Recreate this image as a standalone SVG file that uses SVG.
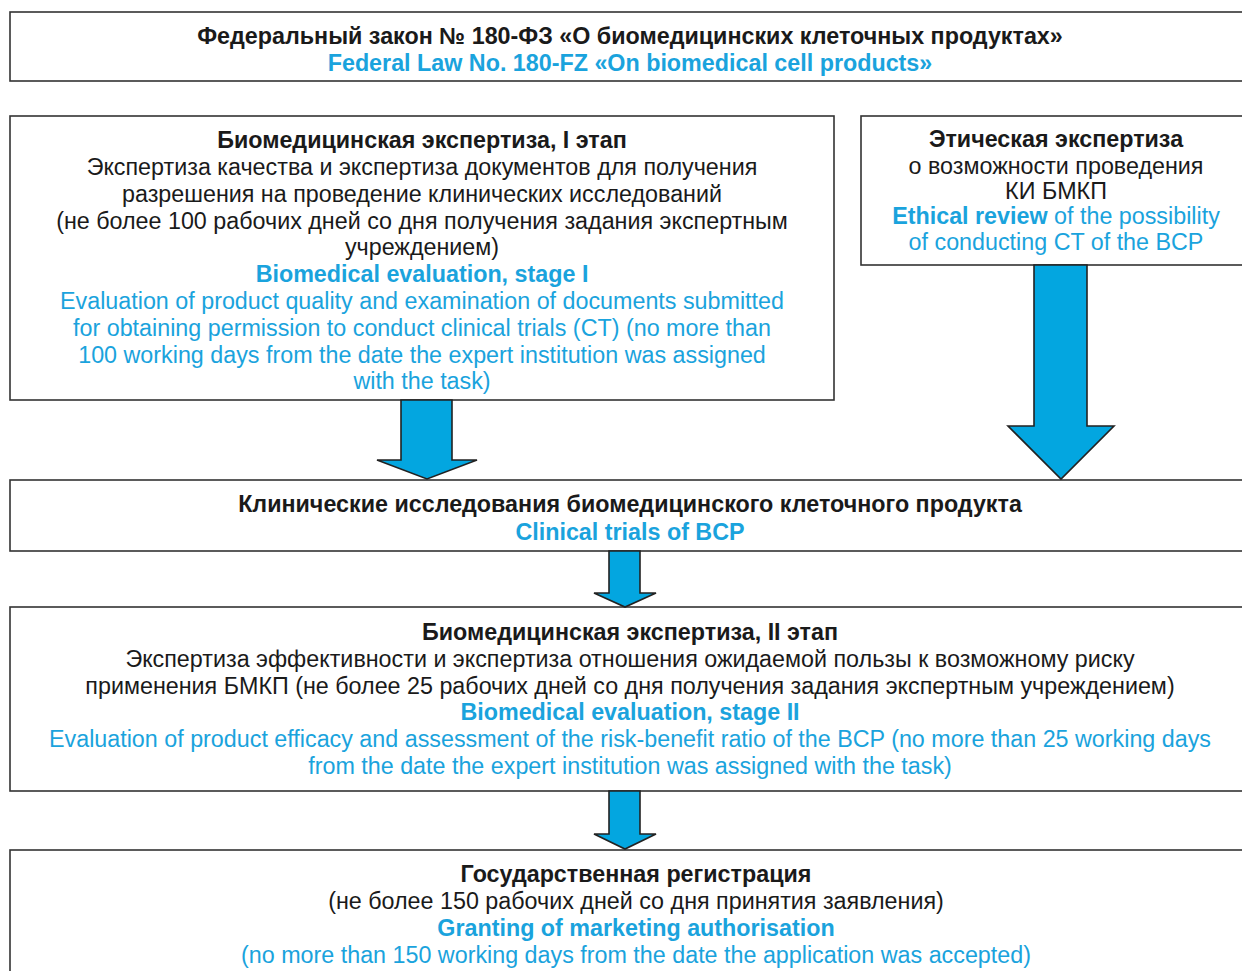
<svg xmlns="http://www.w3.org/2000/svg" width="1242" height="971" viewBox="0 0 1242 971">
<style>
.box{fill:#fff;stroke:#333;stroke-width:1.6}
.arr{fill:#03a6e0;stroke:#222;stroke-width:1.6;stroke-linejoin:miter}
text{font-family:"Liberation Sans",Arial,sans-serif;font-size:23.3px;text-anchor:middle;fill:#1a1a1a}
.b{font-weight:bold}
.c{fill:#1aa3dd}
</style>
<rect width="1242" height="971" fill="#fff"/>
<g id="law">
<rect class="box" x="10" y="12" width="1250" height="69"/>
<text x="630" y="44" class="b">Федеральный закон № 180-ФЗ «О биомедицинских клеточных продуктах»</text>
<text x="630" y="71" class="b c">Federal Law No. 180-FZ «On biomedical cell products»</text>
</g>
<g id="stage1">
<rect class="box" x="10" y="116" width="824" height="284"/>
<text x="422" y="148" class="b">Биомедицинская экспертиза, I этап</text>
<text x="422" y="175">Экспертиза качества и экспертиза документов для получения</text>
<text x="422" y="202">разрешения на проведение клинических исследований</text>
<text x="422" y="229">(не более 100 рабочих дней со дня получения задания экспертным</text>
<text x="422" y="255">учреждением)</text>
<text x="422" y="282" class="b c">Biomedical evaluation, stage I</text>
<text x="422" y="309" class="c">Evaluation of product quality and examination of documents submitted</text>
<text x="422" y="336" class="c">for obtaining permission to conduct clinical trials (CT) (no more than</text>
<text x="422" y="363" class="c">100 working days from the date the expert institution was assigned</text>
<text x="422" y="389" class="c">with the task)</text>
</g>
<g id="ethics">
<rect class="box" x="861" y="116" width="400" height="149"/>
<text x="1056" y="147" class="b">Этическая экспертиза</text>
<text x="1056" y="174">о возможности проведения</text>
<text x="1056" y="199">КИ БМКП</text>
<text x="1056" y="224" class="c"><tspan class="b">Ethical review</tspan> of the possibility</text>
<text x="1056" y="250" class="c">of conducting CT of the BCP</text>
</g>
<g id="trials">
<rect class="box" x="10" y="480" width="1250" height="71"/>
<text x="630" y="512" class="b">Клинические исследования биомедицинского клеточного продукта</text>
<text x="630" y="540" class="b c">Clinical trials of BCP</text>
</g>
<g id="stage2">
<rect class="box" x="10" y="607" width="1250" height="184"/>
<text x="630" y="640" class="b">Биомедицинская экспертиза, II этап</text>
<text x="630" y="667">Экспертиза эффективности и экспертиза отношения ожидаемой пользы к возможному риску</text>
<text x="630" y="694">применения БМКП (не более 25 рабочих дней со дня получения задания экспертным учреждением)</text>
<text x="630" y="720" class="b c">Biomedical evaluation, stage II</text>
<text x="630" y="747" class="c">Evaluation of product efficacy and assessment of the risk-benefit ratio of the BCP (no more than 25 working days</text>
<text x="630" y="774" class="c">from the date the expert institution was assigned with the task)</text>
</g>
<g id="registration">
<rect class="box" x="10" y="850" width="1250" height="140"/>
<text x="636" y="882" class="b">Государственная регистрация</text>
<text x="636" y="909">(не более 150 рабочих дней со дня принятия заявления)</text>
<text x="636" y="936" class="b c">Granting of marketing authorisation</text>
<text x="636" y="963" class="c">(no more than 150 working days from the date the application was accepted)</text>
</g>
<g id="connectors">
<path class="arr" d="M401,400 V460 H377 L427,479 L477,460 H452 V400 Z"/>
<path class="arr" d="M1034,265 V426 H1008 L1061,479 L1114,426 H1087 V265 Z"/>
<path class="arr" d="M609,551 V593 H594 L625,607 L656,593 H640 V551 Z"/>
<path class="arr" d="M609,791 V834 H594 L625,849 L656,834 H640 V791 Z"/>
</g>
</svg>
